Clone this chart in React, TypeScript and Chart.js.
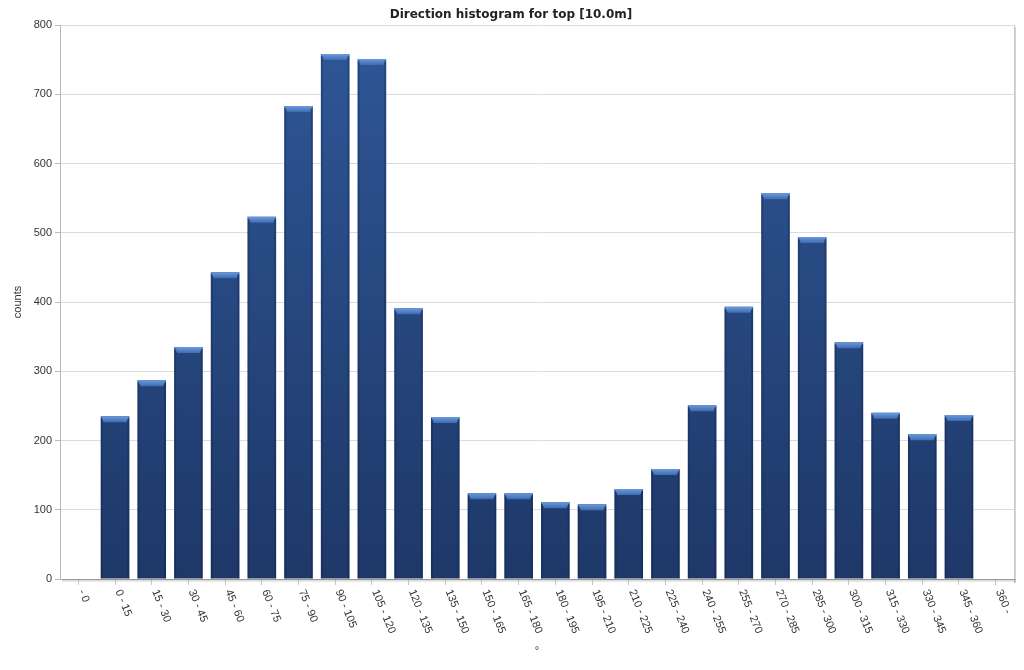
import React, { useEffect, useRef } from "react";
import { Chart, registerables } from "chart.js";

Chart.register(...registerables);

const TITLE = "Direction histogram for top [10.0m]";
const Y_TITLE = "counts";
const X_TITLE = "°";
const CATEGORIES = [
  "- 0", "0 - 15", "15 - 30", "30 - 45", "45 - 60", "60 - 75", "75 - 90", "90 - 105",
  "105 - 120", "120 - 135", "135 - 150", "150 - 165", "165 - 180", "180 - 195",
  "195 - 210", "210 - 225", "225 - 240", "240 - 255", "255 - 270", "270 - 285",
  "285 - 300", "300 - 315", "315 - 330", "330 - 345", "345 - 360", "360 -",
];
const COUNTS: (number | null)[] = [
  null, 235, 287, 335, 443, 523, 683, 758, 751, 391, 234, 124, 124, 111,
  108, 130, 159, 251, 393, 557, 494, 342, 240, 209, 237, null,
];
const Y_MIN = 0;
const Y_MAX = 800;
const Y_STEP = 100;

const FONT = "'Liberation Sans', Arial, sans-serif";
const TITLE_FONT = "'DejaVu Sans', Verdana, sans-serif";
const LABEL_ROT = 68;

const decorPlugin = {
  id: "decor",
  beforeDatasetsDraw(chart: any) {
    const { ctx, chartArea: a } = chart;
    ctx.save();
    const sh = ctx.createLinearGradient(a.right, 0, a.right + 5, 0);
    sh.addColorStop(0, "rgba(120,120,120,0.55)");
    sh.addColorStop(1, "rgba(200,200,200,0)");
    ctx.fillStyle = sh;
    ctx.fillRect(a.right, a.top + 2, 5, a.bottom - a.top + 2);
    const sb = ctx.createLinearGradient(0, a.bottom, 0, a.bottom + 4);
    sb.addColorStop(0, "rgba(120,120,120,0.55)");
    sb.addColorStop(1, "rgba(200,200,200,0)");
    ctx.fillStyle = sb;
    ctx.fillRect(a.left + 2, a.bottom, a.right - a.left + 2, 4);
    ctx.strokeStyle = "#c8c8c8";
    ctx.lineWidth = 1;
    ctx.beginPath();
    ctx.moveTo(a.right + 0.5, a.top);
    ctx.lineTo(a.right + 0.5, a.bottom);
    ctx.stroke();
    ctx.restore();
  },
  afterDatasetsDraw(chart: any) {
    const { ctx } = chart;
    const meta = chart.getDatasetMeta(0);
    ctx.save();
    meta.data.forEach((bar: any, i: number) => {
      if (COUNTS[i] == null) return;
      const { x, y, width } = bar.getProps(["x", "y", "width"], true);
      const x0 = x - width / 2;
      const x1 = x + width / 2;
      const h = 6;
      const g = ctx.createLinearGradient(0, y, 0, y + h);
      g.addColorStop(0, "#6b9ade");
      g.addColorStop(1, "#3e6cb0");
      ctx.fillStyle = g;
      ctx.beginPath();
      ctx.moveTo(x0, y);
      ctx.lineTo(x1, y);
      ctx.lineTo(x1 - 3, y + h);
      ctx.lineTo(x0 + 3, y + h);
      ctx.closePath();
      ctx.fill();
      ctx.fillStyle = "rgba(10,25,60,0.25)";
      ctx.fillRect(x0, y + 2, 2, bar.base - y - 2);
      ctx.fillRect(x1 - 2, y + 2, 2, bar.base - y - 2);
    });
    ctx.restore();
  },
  afterDraw(chart: any) {
    const { ctx } = chart;
    const sx = chart.scales.x;
    ctx.save();
    ctx.font = `11px ${FONT}`;
    ctx.fillStyle = "#333";
    ctx.textAlign = "left";
    ctx.textBaseline = "middle";
    CATEGORIES.forEach((lab, i) => {
      const px = sx.getPixelForTick(i);
      ctx.save();
      ctx.translate(px + 3, sx.top + 11);
      ctx.rotate((LABEL_ROT * Math.PI) / 180);
      ctx.fillText(lab, 0, 0);
      ctx.restore();
    });
    ctx.restore();
  },
};

export default function App() {
  const ref = useRef<HTMLCanvasElement>(null);
  useEffect(() => {
    if (!ref.current) return;
    const chart = new Chart(ref.current, {
      type: "bar",
      data: {
        labels: CATEGORIES,
        datasets: [
          {
            data: COUNTS,
            backgroundColor: (c: any) => {
              const area = c.chart.chartArea;
              if (!area) return "#284a80";
              const g = c.chart.ctx.createLinearGradient(0, area.top, 0, area.bottom);
              g.addColorStop(0, "#2f5797");
              g.addColorStop(1, "#1e3868");
              return g;
            },
            borderWidth: 0,
            categoryPercentage: 1,
            barPercentage: 0.78,
          },
        ],
      },
      options: {
        animation: false,
        responsive: true,
        maintainAspectRatio: false,
        layout: { padding: { top: 0, right: 2, bottom: 0, left: 0 } },
        plugins: {
          legend: { display: false },
          tooltip: { enabled: false },
          title: {
            display: true,
            text: TITLE,
            color: "#222",
            font: { family: TITLE_FONT, size: 12, weight: "bold", lineHeight: 1 },
            padding: { top: 1, bottom: 4 },
          },
        },
        scales: {
          x: {
            type: "category",
            offset: true,
            grid: {
              display: true,
              drawOnChartArea: false,
              drawTicks: true,
              tickLength: 6,
              color: "#c8c8c8",
              offset: false,
            },
            border: { display: true, color: "#b0b0b0", width: 1 },
            ticks: { display: false },
            title: {
              display: true,
              text: X_TITLE,
              color: "#333",
              font: { family: FONT, size: 11 },
              padding: { top: 0, bottom: 4 },
            },
            afterFit: (s: any) => {
              s.height = 83;
            },
          },
          y: {
            min: Y_MIN,
            max: Y_MAX,
            ticks: {
              stepSize: Y_STEP,
              color: "#333",
              font: { family: FONT, size: 11 },
              padding: 3,
            },
            grid: {
              color: "#dcdcdc",
              tickLength: 5,
              tickColor: "#bbbbbb",
            },
            border: { display: true, color: "#b8b8b8", width: 1 },
            title: {
              display: true,
              text: Y_TITLE,
              color: "#333",
              font: { family: FONT, size: 11 },
              padding: { top: 3, bottom: 0 },
            },
            afterFit: (s: any) => {
              s.width = 52;
            },
          },
        },
      },
      plugins: [decorPlugin],
    });
    return () => chart.destroy();
  }, []);
  return (
    <div style={{ width: 1008, height: 654, position: "relative" }}>
      <canvas ref={ref} />
    </div>
  );
}
